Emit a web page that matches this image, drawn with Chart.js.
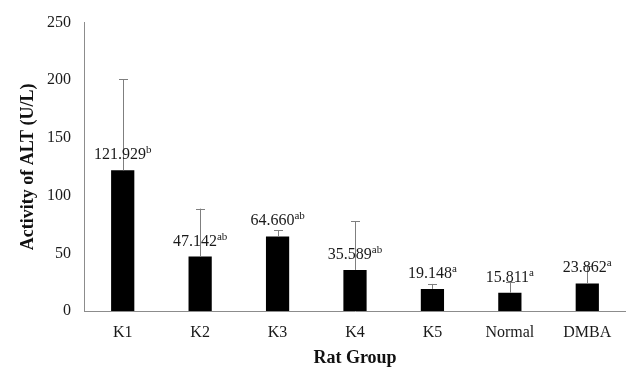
<!DOCTYPE html>
<html>
<head>
<meta charset="utf-8">
<script src="https://cdn.jsdelivr.net/npm/chart.js@4.4.1/dist/chart.umd.min.js"></script>
<style>
  html, body { margin: 0; padding: 0; background: #fff; }
  #wrap { width: 626px; height: 367px; position: relative; }
</style>
</head>
<body>
<div id="wrap"><canvas id="c"></canvas></div>
<script>
const groups = ['K1', 'K2', 'K3', 'K4', 'K5', 'Normal', 'DMBA'];
const means = [121.929, 47.142, 64.660, 35.589, 19.148, 15.811, 23.862];
const sds = [79, 41.6, 5.5, 42.3, 4.3, 9.7, 15];
const letters = ['b', 'ab', 'ab', 'ab', 'a', 'a', 'a'];
const yTicks = [0, 50, 100, 150, 200, 250];

const serif = "'Liberation Serif', 'Times New Roman', serif";

// upper error bars plus "value + superscript letter" labels
const errorLabels = {
    id: 'errorLabels',
    afterDatasetsDraw(chart) {
        const ctx = chart.ctx;
        const y = chart.scales.y;
        const meta = chart.getDatasetMeta(0);
        meta.data.forEach((bar, i) => {
            const x = Math.round(bar.x) + 0.5;
            const top = y.getPixelForValue(means[i] + sds[i]);
            ctx.save();
            ctx.strokeStyle = '#7f7f7f';
            ctx.lineWidth = 1;
            ctx.beginPath();
            ctx.moveTo(x, bar.y);
            ctx.lineTo(x, top);
            ctx.moveTo(x - 4.5, Math.round(top) + 0.5);
            ctx.lineTo(x + 4.5, Math.round(top) + 0.5);
            ctx.stroke();

            const main = means[i].toFixed(3);
            const sup = letters[i];
            ctx.fillStyle = '#1a1a1a';
            ctx.textBaseline = 'alphabetic';
            ctx.font = '16px ' + serif;
            const w1 = ctx.measureText(main).width;
            ctx.font = '11px ' + serif;
            const w2 = ctx.measureText(sup).width;
            const left = bar.x - (w1 + w2) / 2;
            const base = bar.y - 11;
            ctx.font = '16px ' + serif;
            ctx.textAlign = 'left';
            ctx.fillText(main, left, base);
            ctx.font = '11px ' + serif;
            ctx.fillText(sup, left + w1, base - 6);
            ctx.restore();
        });
    }
};

new Chart(document.getElementById('c'), {
    type: 'bar',
    data: {
        labels: groups,
        datasets: [{
            label: 'ALT',
            data: means,
            backgroundColor: '#000',
            borderWidth: 0,
            barPercentage: 0.3,
            categoryPercentage: 1
        }]
    },
    options: {
        responsive: true,
        maintainAspectRatio: false,
        animation: false,
        layout: { padding: { top: 20, right: 0, left: 0, bottom: 0 } },
        plugins: {
            legend: { display: false },
            tooltip: { enabled: false }
        },
        scales: {
            x: {
                grid: { display: false, drawTicks: false },
                border: { display: true, color: '#8c8c8c', width: 1 },
                ticks: {
                    color: '#1a1a1a',
                    padding: 12,
                    font: { family: serif, size: 16 }
                },
                title: {
                    display: true,
                    text: 'Rat Group',
                    color: '#111',
                    padding: { top: 6, bottom: 0 },
                    font: { family: serif, size: 18, weight: 'bold', lineHeight: 1 }
                },
                afterFit(scale) { scale.height = 56; }
            },
            y: {
                min: 0,
                max: 250,
                afterBuildTicks(scale) { scale.ticks = yTicks.map(v => ({ value: v })); },
                grid: { display: false, drawTicks: false },
                border: { display: true, color: '#8c8c8c', width: 1 },
                ticks: {
                    color: '#1a1a1a',
                    padding: 13,
                    font: { family: serif, size: 16 }
                },
                title: {
                    display: true,
                    text: 'Activity of ALT (U/L)',
                    color: '#111',
                    padding: { top: 18, bottom: 0 },
                    font: { family: serif, size: 18, weight: 'bold' }
                },
                afterFit(scale) { scale.width = 84; }
            }
        }
    },
    plugins: [errorLabels]
});
</script>
</body>
</html>
